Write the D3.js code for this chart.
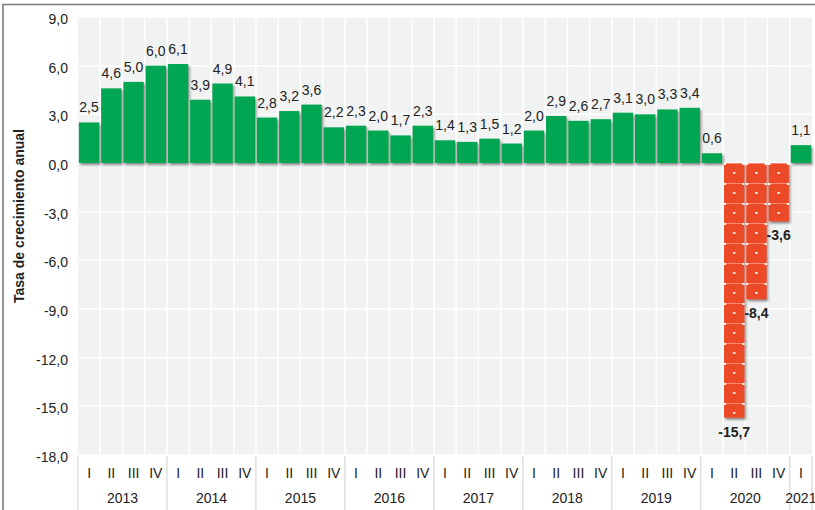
<!DOCTYPE html>
<html>
<head>
<meta charset="utf-8">
<script src="https://cdn.jsdelivr.net/npm/d3@7"></script>
<style>
  body { margin: 0; background: #fff; }
  text { font-family: "Liberation Sans", Arial, sans-serif; fill: #222; }
</style>
</head>
<body>
<svg id="chart" width="815" height="510"></svg>
<script>
// quarterly growth rates, 2013 Q1 .. 2021 Q1
const years = ["2013", "2014", "2015", "2016", "2017", "2018", "2019", "2020", "2021"];
const quarters = ["I", "II", "III", "IV"];
const values = [
  2.5, 4.6, 5.0, 6.0,
  6.1, 3.9, 4.9, 4.1,
  2.8, 3.2, 3.6, 2.2,
  2.3, 2.0, 1.7, 2.3,
  1.4, 1.3, 1.5, 1.2,
  2.0, 2.9, 2.6, 2.7,
  3.1, 3.0, 3.3, 3.4,
  0.6, -15.7, -8.4, -3.6,
  1.1
];
const yTicks = [9, 6, 3, 0, -3, -6, -9, -12, -15, -18];

const data = values.map(function(v, i) {
  return { id: i, year: years[Math.floor(i / 4)], q: quarters[i % 4], value: v };
});

const svg = d3.select("#chart");
const plotLeft = 78, plotRight = 812, plotTop = 17, plotBottom = 455;

const x = d3.scaleBand()
  .domain(data.map(d => d.id))
  .range([plotLeft, plotRight])
  .paddingInner(0.085)
  .paddingOuter(0.04);
const y = d3.scaleLinear().domain([-18, 9]).range([plotBottom, plotTop]);
const locale = d3.formatLocale({ decimal: ",", thousands: ".", grouping: [3], currency: ["", ""], minus: "-" });
const fmt = locale.format(".1f");

// frame
svg.append("line").attr("x1", 3).attr("x2", 815).attr("y1", 4.5).attr("y2", 4.5)
  .attr("stroke", "#7a7a7a").attr("stroke-width", 1.6);
svg.append("line").attr("x1", 3).attr("x2", 3).attr("y1", 4).attr("y2", 510)
  .attr("stroke", "#7a7a7a").attr("stroke-width", 1.6);

const defs = svg.append("defs");
const shadow = defs.append("filter").attr("id", "shadow")
  .attr("x", "-20%").attr("y", "-20%").attr("width", "140%").attr("height", "140%");
shadow.append("feDropShadow").attr("dx", 1.5).attr("dy", 2).attr("stdDeviation", 1)
  .attr("flood-color", "#333").attr("flood-opacity", 0.55);

// plot background + grid
const bw = (plotRight - plotLeft) / values.length;
svg.append("rect").attr("x", plotLeft).attr("y", plotTop)
  .attr("width", plotRight - plotLeft).attr("height", plotBottom - plotTop).attr("fill", "#f1f2f2");
svg.append("g").selectAll("line").data(yTicks).join("line")
  .attr("x1", plotLeft).attr("x2", plotRight)
  .attr("y1", d => y(d)).attr("y2", d => y(d))
  .attr("stroke", "#fff").attr("stroke-width", 1.5);
svg.append("g").selectAll("line").data(d3.range(1, values.length)).join("line")
  .attr("x1", d => plotLeft + d * bw)
  .attr("x2", d => plotLeft + d * bw)
  .attr("y1", plotTop).attr("y2", plotBottom)
  .attr("stroke", "#fff").attr("stroke-width", 1.5);

// y axis labels
svg.append("g").selectAll("text").data(yTicks).join("text")
  .attr("x", 68).attr("y", d => y(d) + 2)
  .attr("dy", "0.35em")
  .attr("text-anchor", "end")
  .style("font-size", "14px")
  .text(d => fmt(d));

svg.append("text")
  .attr("transform", "translate(24,216) rotate(-90)")
  .attr("text-anchor", "middle")
  .style("font-size", "14px")
  .style("font-weight", "bold")
  .text("Tasa de crecimiento anual");

// tile pattern per negative bar
const tileH = 20;
data.filter(d => d.value < 0).forEach(function(d) {
  const w = x.bandwidth();
  const p = defs.append("pattern").attr("id", "tile" + d.id)
    .attr("patternUnits", "userSpaceOnUse")
    .attr("x", x(d.id)).attr("y", y(0))
    .attr("width", w).attr("height", tileH);
  p.append("rect").attr("width", w).attr("height", tileH).attr("fill", "#ec4a26");
  p.append("line").attr("x1", 0).attr("x2", w).attr("y1", 0.5).attr("y2", 0.5)
    .attr("stroke", "#f58a70").attr("stroke-width", 1);
  [[0, 0], [w - 2, 0]].forEach(function(c) {
    p.append("rect").attr("x", c[0]).attr("y", c[1]).attr("width", 2).attr("height", 2).attr("fill", "#fff");
  });
  p.append("rect").attr("x", w / 2 - 1).attr("y", tileH / 2 - 1)
    .attr("width", 2).attr("height", 2).attr("fill", "#fff");
});

// bars
svg.append("g").attr("filter", "url(#shadow)")
  .selectAll("rect").data(data).join("rect")
  .attr("x", d => x(d.id))
  .attr("width", x.bandwidth())
  .attr("y", d => y(Math.max(0, d.value)))
  .attr("height", d => Math.abs(y(d.value) - y(0)))
  .attr("fill", d => d.value >= 0 ? "#00a651" : "url(#tile" + d.id + ")");

// value labels
svg.append("g").selectAll("text").data(data).join("text")
  .attr("x", d => x(d.id) + x.bandwidth() / 2)
  .attr("y", d => d.value >= 0 ? y(d.value) - 10 : y(d.value) + 19)
  .attr("text-anchor", "middle")
  .style("font-size", "14px")
  .style("font-weight", d => d.value < 0 ? "bold" : "normal")
  .text(d => fmt(d.value));

// category axis
svg.append("g").selectAll("text").data(data).join("text")
  .attr("x", d => plotLeft + (d.id + 0.5) * bw)
  .attr("y", 478)
  .attr("text-anchor", "middle")
  .style("font-size", "14px")
  .text(d => d.q);

const groups = years.map(function(yr) {
  const idx = data.filter(d => d.year === yr).map(d => d.id);
  return { year: yr, start: d3.min(idx), end: d3.max(idx) + 1 };
});
svg.append("g").selectAll("line").data(groups.map(g => g.start).concat([values.length])).join("line")
  .attr("x1", d => plotLeft + d * bw).attr("x2", d => plotLeft + d * bw)
  .attr("y1", plotBottom + 1).attr("y2", 510)
  .attr("stroke", "#d8d8d8").attr("stroke-width", 1.2);
svg.append("g").selectAll("text").data(groups).join("text")
  .attr("x", g => plotLeft + (g.start + g.end) / 2 * bw)
  .attr("y", 503)
  .attr("text-anchor", "middle")
  .style("font-size", "14px")
  .text(g => g.year);
</script>
</body>
</html>
